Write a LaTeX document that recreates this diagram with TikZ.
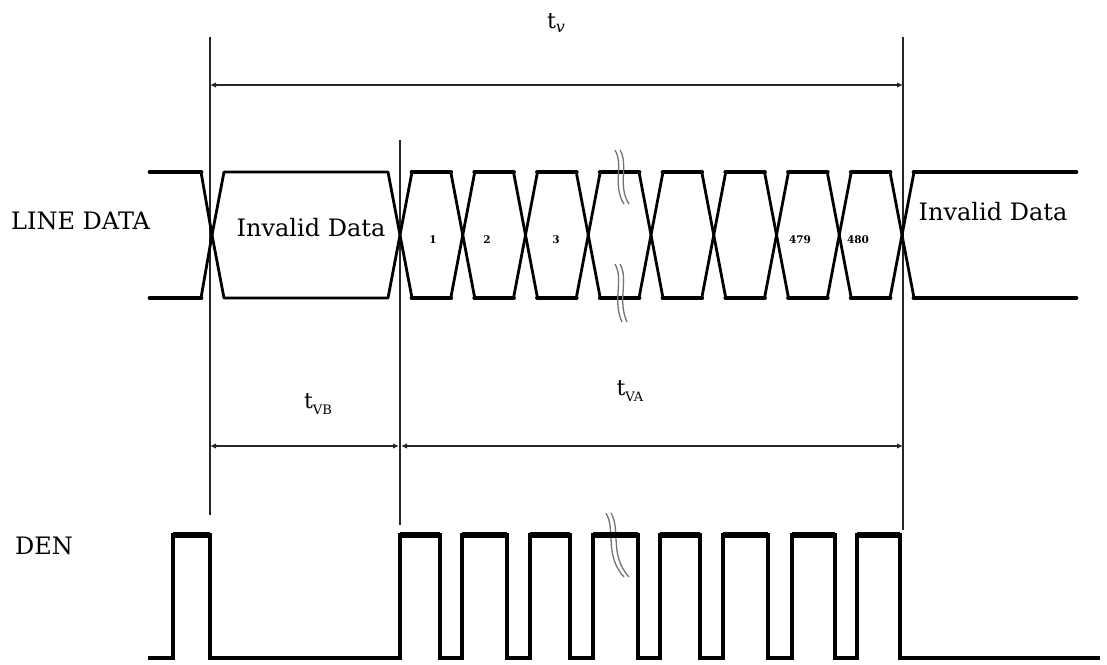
\documentclass[tikz,border=0pt]{standalone}
\usepackage{fontspec}
\setmainfont{DejaVu Serif}
\usetikzlibrary{arrows.meta}
\begin{document}
\begin{tikzpicture}[x=1pt,y=-1pt,
  guide/.style={line width=1.5pt,draw=black!85},
  dim/.style={line width=1.4pt,draw=black!85,{Latex[length=6pt,width=5.5pt]}-{Latex[length=6pt,width=5.5pt]}},
  sig/.style={line width=2.8pt,line join=round,line cap=round},
  flat/.style={line width=4.8pt,line cap=round},
  brk/.style={line width=1.3pt,draw=black!55},
  lbl/.style={inner sep=0pt,font=\fontsize{24}{24}\selectfont},
  num/.style={inner sep=0pt,font=\fontsize{10.5}{11}\selectfont\bfseries},
  tlab/.style={inner sep=0pt,font=\fontsize{22}{22}\selectfont}]
\useasboundingbox (0,0) rectangle (1107,664);
% guide lines
\coordinate (gA0) at (210,37);  \coordinate (gA1) at (210,515);
\coordinate (gB0) at (400,140); \coordinate (gB1) at (400,525);
\coordinate (gC0) at (903,37);  \coordinate (gC1) at (903,530);
\draw[guide] (gA0) -- (gA1);
\draw[guide] (gB0) -- (gB1);
\draw[guide] (gC0) -- (gC1);
% dimension lines
\coordinate (dA) at (210,85); \coordinate (dC) at (903,85);
\draw[dim] (dA) -- (dC);
\coordinate (eA) at (210,446); \coordinate (eB) at (400,446); \coordinate (eC) at (903,446);
\draw[dim] (eA) -- ([xshift=-1pt]eB);
\draw[dim] ([xshift=1pt]eB) -- (eC);
\node[tlab] (tv) at (556,23) {t\raisebox{-0.35ex}{\fontsize{16}{16}\selectfont\itshape v}};
\node[tlab] (tvb) at (318,404) {t\raisebox{-0.45ex}{\fontsize{13}{13}\selectfont VB}};
\node[tlab] (tva) at (630,391) {t\raisebox{-0.45ex}{\fontsize{13}{13}\selectfont VA}};
% labels
\node[lbl,anchor=west] (ld) at (11,221) {LINE DATA};
\node[lbl,anchor=west] (den) at (15,546) {DEN};
\node[lbl] (inv1) at (311,228) {Invalid Data};
\node[lbl] (inv2) at (993,212) {Invalid Data};
% LINE DATA signal
\def\T{172}\def\B{298}\def\M{235}\def\h{12}
% left outer
\draw[sig] (212,\M) -- (201,\T); \draw[sig] (212,\M) -- (201,\B);
\draw[flat] (150,\T) -- (201,\T); \draw[flat] (150,\B) -- (201,\B);
% invalid left cell
\draw[sig] (212,\M) -- (224,\T) -- (388,\T) -- (400,\M) -- (388,\B) -- (224,\B) -- cycle;
% data cells
\foreach \a/\b in {400/462.75,462.75/525.5,525.5/588.25,588.25/651,651/713.75,713.75/776.5,776.5/839.25,839.25/902}{
  \draw[sig] (\a,\M) -- (\a+\h,\T) -- (\b-\h,\T) -- (\b,\M) -- (\b-\h,\B) -- (\a+\h,\B) -- cycle;
  \draw[flat] (\a+\h,\T) -- (\b-\h,\T);
  \draw[flat] (\a+\h,\B) -- (\b-\h,\B);
}
% right outer
\draw[sig] (902,\M) -- (914,\T); \draw[sig] (902,\M) -- (914,\B);
\draw[flat] (914,\T) -- (1076,\T); \draw[flat] (914,\B) -- (1076,\B);
% cell numbers
\node[num] (n1) at (433,240) {1};
\node[num] (n2) at (487,240) {2};
\node[num] (n3) at (556,240) {3};
\node[num] (n479) at (800,240) {479};
\node[num] (n480) at (858,240) {480};
% break marks
\foreach \dx in {0,5}{
  \draw[brk] (615+\dx,150) .. controls (624+\dx,165) and (612+\dx,185) .. (624+\dx,204);
  \draw[brk] (615+\dx,264) .. controls (624+\dx,280) and (612+\dx,300) .. (622+\dx,322);
  \draw[brk] (606+\dx,513) .. controls (616+\dx,530) and (604+\dx,555) .. (624+\dx,577);
}
% DEN signal
\def\L{658}\def\H{535}
\draw[line width=3.2pt,line join=miter] (148,\L) -- (173,\L) -- (173,\H) -- (210,\H) -- (210,\L) -- (400,\L)
  -- (400,\H) -- (440,\H) -- (440,\L) -- (462,\L)
  -- (462,\H) -- (507,\H) -- (507,\L) -- (530,\L)
  -- (530,\H) -- (570,\H) -- (570,\L) -- (593,\L)
  -- (593,\H) -- (638,\H) -- (638,\L) -- (660,\L)
  -- (660,\H) -- (700,\H) -- (700,\L) -- (723,\L)
  -- (723,\H) -- (768,\H) -- (768,\L) -- (792,\L)
  -- (792,\H) -- (835,\H) -- (835,\L) -- (857,\L)
  -- (857,\H) -- (900,\H) -- (900,\L) -- (1100,\L);
\foreach \a/\b in {173/210,400/440,462/507,530/570,593/638,660/700,723/768,792/835,857/900}{
  \draw[line width=5.2pt] (\a,\H) -- (\b,\H);
}
\end{tikzpicture}
\end{document}
